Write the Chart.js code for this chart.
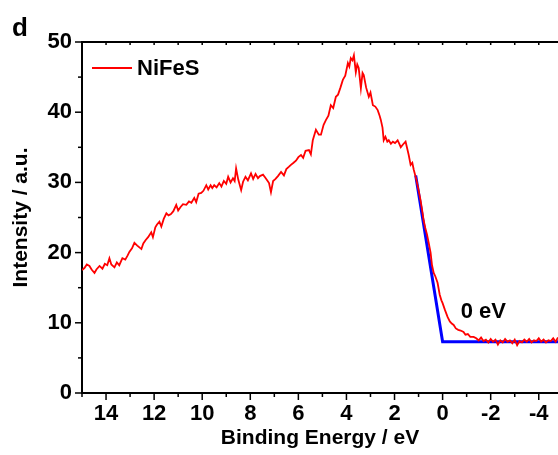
<!DOCTYPE html>
<html>
<head>
<meta charset="utf-8">
<script src="https://cdn.jsdelivr.net/npm/chart.js@4.4.1/dist/chart.umd.min.js"></script>
<style>
  html, body { margin: 0; padding: 0; background: #fff; }
  #wrap { width: 558px; height: 455px; position: relative; }
</style>
</head>
<body>
<div id="wrap"><canvas id="chart"></canvas></div>
<script>
// Espectro de valencia (XPS) - NiFeS
const energy = [
  15.0, 14.9, 14.8, 14.69, 14.6, 14.48, 14.4, 14.27, 14.15, 14.05, 13.95, 13.86, 13.78, 13.65, 13.55, 13.45,
  13.32, 13.2, 13.1, 13.03, 12.92, 12.82, 12.7, 12.6, 12.53, 12.45, 12.35, 12.25, 12.12, 12.05, 11.95, 11.88,
  11.78, 11.7, 11.6, 11.49, 11.4, 11.3, 11.2, 11.08, 11.0, 10.9, 10.8, 10.66, 10.55, 10.45, 10.33, 10.25,
  10.15, 10.04, 9.95, 9.83, 9.75, 9.65, 9.58, 9.5, 9.4, 9.29, 9.2, 9.1, 9.0, 8.92, 8.82, 8.72, 8.65, 8.59,
  8.5, 8.38, 8.3, 8.2, 8.1, 7.97, 7.88, 7.78, 7.68, 7.6, 7.47, 7.38, 7.3, 7.22, 7.14, 7.05, 6.95, 6.85,
  6.72, 6.6, 6.5, 6.4, 6.31, 6.2, 6.1, 6.0, 5.89, 5.8, 5.7, 5.56, 5.48, 5.4, 5.27, 5.15, 5.06, 4.95,
  4.85, 4.75, 4.65, 4.55, 4.44, 4.35, 4.25, 4.15, 4.05, 3.94, 3.88, 3.82, 3.75, 3.69, 3.61, 3.55, 3.49,
  3.4, 3.33, 3.28, 3.18, 3.07, 3.0, 2.9, 2.8, 2.7, 2.62, 2.57, 2.5, 2.45, 2.38, 2.3, 2.24, 2.15, 2.07,
  1.98, 1.87, 1.8, 1.74, 1.65, 1.54, 1.47, 1.41, 1.33, 1.26, 1.2, 1.1, 1.0, 0.92, 0.85, 0.79, 0.72, 0.65,
  0.58, 0.5, 0.44, 0.37, 0.3, 0.21, 0.12, 0.05, 0.0, -0.1, -0.21, -0.3, -0.38, -0.46, -0.55, -0.65, -0.75,
  -0.87, -0.95, -1.05, -1.15, -1.29, -1.4, -1.5, -1.6, -1.7, -1.8, -1.9, -2.0, -2.1, -2.2, -2.3, -2.4,
  -2.5, -2.6, -2.7, -2.8, -2.9, -3.0, -3.1, -3.2, -3.3, -3.4, -3.5, -3.6, -3.7, -3.8, -3.9, -4.0, -4.1,
  -4.2, -4.3, -4.4, -4.5, -4.6, -4.7, -4.8
];
const intensity = [
  17.5, 17.8, 18.3, 18.1, 17.6, 17.1, 17.6, 18.1, 17.7, 18.4, 18.2, 19.2, 18.3, 17.9, 18.6, 18.2,
  19.2, 19.0, 19.6, 20.1, 20.6, 21.4, 21.0, 20.7, 20.5, 21.3, 21.8, 22.2, 22.9, 22.2, 23.6, 24.0,
  24.4, 23.7, 24.8, 25.6, 25.3, 25.5, 25.9, 26.8, 26.0, 26.5, 26.9, 26.8, 27.3, 27.1, 27.8, 27.2,
  28.4, 28.5, 28.8, 29.6, 29.0, 29.6, 29.2, 29.6, 29.3, 29.9, 29.4, 30.2, 29.8, 30.8, 30.0, 30.6, 30.2, 32.0,
  30.4, 28.9, 30.1, 30.8, 30.3, 31.3, 30.5, 31.2, 30.6, 30.9, 31.1, 30.7, 30.3, 29.9, 28.6, 30.2, 30.5, 30.9,
  31.5, 31.0, 31.9, 32.2, 32.5, 32.8, 33.1, 33.6, 33.9, 33.5, 34.5, 34.6, 34.0, 36.0, 37.5, 36.8, 36.8, 38.2,
  38.9, 39.5, 41.0, 40.6, 42.2, 42.5, 43.5, 44.6, 45.2, 47.0, 46.5, 47.7, 47.4, 48.1, 45.7, 46.8, 46.3,
  43.4, 45.6, 45.3, 43.5, 42.2, 42.8, 41.0, 40.8, 40.3, 39.5, 38.9, 37.8, 36.0, 36.5, 35.8, 36.0, 35.5, 35.8,
  35.6, 36.0, 35.5, 35.0, 35.4, 35.8, 34.8, 33.9, 32.5, 32.8, 31.8, 30.5, 28.9, 27.5, 26.0, 24.6, 23.5, 22.6,
  21.4, 20.0, 18.2, 17.1, 16.6, 15.7, 14.0, 13.2, 12.8, 11.8, 10.8, 10.2, 9.9, 9.7, 9.2, 9.0, 8.9,
  8.7, 8.3, 8.4, 8.0, 8.0, 7.8, 7.5, 7.9, 7.4, 7.6, 7.2, 7.7, 7.3, 7.6, 6.9, 7.5,
  7.2, 7.7, 7.3, 7.5, 7.1, 7.6, 6.8, 7.4, 7.2, 7.6, 7.3, 7.7, 7.2, 7.5, 7.4, 7.8, 7.3,
  7.6, 7.2, 7.5, 7.4, 7.8, 7.3, 7.9
];
// Ajuste lineal del borde de valencia
const fitEnergy = [1.12, 0.0, -5.0];
const fitIntensity = [31.0, 7.3, 7.3];

const xTicks = [14, 12, 10, 8, 6, 4, 2, 0, -2, -4];
const yTicks = [0, 10, 20, 30, 40, 50];

const FONT = '"Liberation Sans", Arial, sans-serif';

// Marcas de los ejes, borde superior, leyenda y textos
const decorations = {
  id: "decorations",
  afterDraw(chart) {
    const { ctx, chartArea: a, scales } = chart;
    const xs = scales.x, ys = scales.y;
    ctx.save();
    ctx.strokeStyle = "#000";
    ctx.lineWidth = 2;
    // borde superior
    ctx.beginPath();
    ctx.moveTo(a.left - 1, a.top);
    ctx.lineTo(a.right, a.top);
    ctx.stroke();
    // ticks del eje x
    ctx.lineWidth = 1.5;
    for (let v = -4; v <= 15; v++) {
      const px = xs.getPixelForValue(v);
      const major = v % 2 === 0;
      ctx.beginPath();
      ctx.moveTo(px, a.bottom);
      ctx.lineTo(px, a.bottom + (major ? 7 : 4));
      ctx.moveTo(px, a.top);
      ctx.lineTo(px, a.top + 3);
      ctx.stroke();
    }
    // ticks del eje y
    for (let v = 0; v <= 50; v += 5) {
      const py = ys.getPixelForValue(v);
      const major = v % 10 === 0;
      ctx.beginPath();
      ctx.moveTo(a.left, py);
      ctx.lineTo(a.left - (major ? 7 : 4), py);
      ctx.stroke();
    }
    // leyenda
    const ds = chart.data.datasets[0];
    ctx.strokeStyle = ds.borderColor;
    ctx.lineWidth = 1.8;
    ctx.beginPath();
    ctx.moveTo(92, 68);
    ctx.lineTo(132, 68);
    ctx.stroke();
    ctx.fillStyle = "#000";
    ctx.font = "bold 22px " + FONT;
    ctx.textBaseline = "alphabetic";
    ctx.textAlign = "left";
    ctx.fillText(ds.label, 137, 75);
    // anotación
    ctx.font = "bold 22px " + FONT;
    ctx.fillText("0 eV", xs.getPixelForValue(-0.75), ys.getPixelForValue(10.7));
    // etiqueta del panel
    ctx.font = "bold 26px " + FONT;
    ctx.fillText("d", 12, 36);
    ctx.restore();
  }
};

const ctx = document.getElementById("chart").getContext("2d");
new Chart(ctx, {
  type: "line",
  data: {
    datasets: [
      {
        label: "NiFeS",
        data: energy.map((e, i) => ({ x: e, y: intensity[i] })),
        borderColor: "#ff0000",
        borderWidth: 1.8,
        pointRadius: 0,
        tension: 0,
        fill: false
      },
      {
        label: "fit",
        data: fitEnergy.map((e, i) => ({ x: e, y: fitIntensity[i] })),
        borderColor: "#0000ff",
        borderWidth: 3,
        pointRadius: 0,
        tension: 0,
        fill: false
      }
    ]
  },
  options: {
    responsive: true,
    maintainAspectRatio: false,
    animation: false,
    devicePixelRatio: 1,
    layout: { padding: { left: 0, right: 0, top: 42, bottom: 0 } },
    plugins: {
      legend: { display: false },
      tooltip: { enabled: false }
    },
    scales: {
      x: {
        type: "linear",
        reverse: true,
        min: -4.8,
        max: 15,
        grid: { display: false, drawTicks: false },
        border: { display: true, color: "#000", width: 2 },
        afterBuildTicks: (s) => { s.ticks = xTicks.map((v) => ({ value: v })); },
        afterFit: (s) => { s.height = 62; s.paddingLeft = 0; s.paddingRight = 0; },
        ticks: {
          color: "#000",
          padding: 8,
          maxRotation: 0,
          font: { family: FONT, size: 22, weight: "bold" }
        },
        title: {
          display: true,
          text: "Binding Energy / eV",
          color: "#000",
          padding: { top: 0, bottom: 4 },
          font: { family: FONT, size: 21, weight: "bold" }
        }
      },
      y: {
        min: 0,
        max: 50,
        grid: { display: false, drawTicks: false },
        border: { display: true, color: "#000", width: 2 },
        afterBuildTicks: (s) => { s.ticks = yTicks.map((v) => ({ value: v })); },
        afterFit: (s) => { s.width = 82; s.paddingTop = 0; s.paddingBottom = 0; },
        ticks: {
          color: "#000",
          padding: 10,
          font: { family: FONT, size: 22, weight: "bold" }
        },
        title: {
          display: true,
          text: "Intensity / a.u.",
          color: "#000",
          padding: { top: 9, bottom: 0 },
          font: { family: FONT, size: 21, weight: "bold" }
        }
      }
    }
  },
  plugins: [decorations]
});
</script>
</body>
</html>
